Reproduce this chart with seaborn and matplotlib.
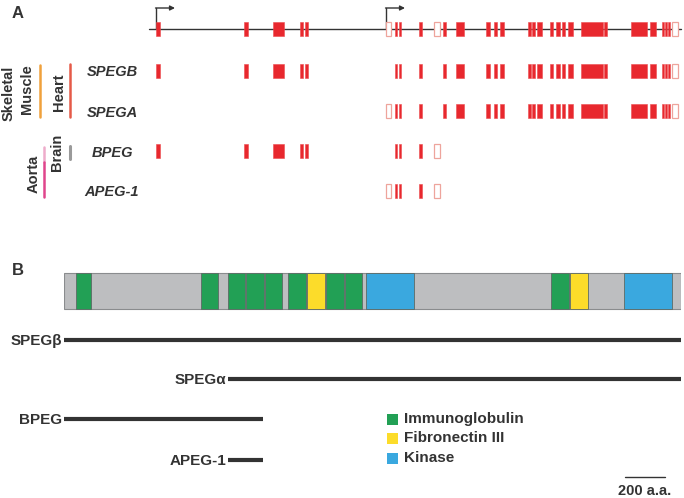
import matplotlib
matplotlib.use("Agg")
import matplotlib.pyplot as plt
import seaborn as sns
from matplotlib.patches import Rectangle

sns.set_theme(style="white")
plt.rcParams['font.family'] = ['Liberation Sans', 'DejaVu Sans']

# ---------------- Panel A data (gene coordinates, display units) ----------------
exon_start = [156, 244, 273, 300, 305, 386, 395, 398.7, 418.5, 434, 442.7, 456,
              485.7, 494, 500, 528.3, 532.3, 536.7, 550, 555.7, 562.3, 568.3,
              581, 604.3, 631, 650, 661.7, 665, 668.3, 671.7]
exon_end = [160, 248, 284, 302.5, 307.5, 390.5, 397.3, 401, 421.7, 439.5, 446, 464.3,
            490, 497, 504, 531, 535, 541.7, 552.5, 560, 565, 573.3,
            603.3, 607, 646.7, 656, 663.7, 667, 670.3, 678.3]
noncoding_exons = [5, 9, 29]
gene_span = [149, 681]
promoters = [156, 386]

transcripts = ["SPEGB", "SPEGA", "BPEG", "APEG-1"]
transcript_exons = [
    [0, 1, 2, 3, 4, 6, 7, 8] + list(range(10, 30)),
    [5, 6, 7, 8] + list(range(10, 30)),
    [0, 1, 2, 3, 4, 6, 7, 8, 9],
    [5, 6, 7, 8, 9],
]

tissues = ["Skeletal\nMuscle", "Heart", "Brain", "Aorta"]

# ---------------- Panel B data (amino acids) ----------------
protein_length = 3085
domain_names = ["Ig", "Ig", "Ig", "Ig", "Ig", "Ig", "FN3", "Ig", "Ig", "Kinase",
                "Ig", "FN3", "Kinase"]
domain_start = [58, 683, 821, 910, 1005, 1121, 1216, 1310, 1403, 1512, 2435, 2530, 2801]
domain_end = [135, 768, 905, 1000, 1088, 1208, 1305, 1398, 1488, 1751, 2525, 2618, 3038]
isoforms = ["SPEG\u03b2", "SPEG\u03b1", "BPEG", "APEG-1"]
isoform_start = [0, 820, 0, 820]
isoform_end = [3085, 3085, 995, 995]
legend_labels = ["Immunoglobulin", "Fibronectin III", "Kinase"]
scale_bar_aa = 200

domain_colors = {"Ig": "#22a055", "FN3": "#fcdc2a", "Kinase": "#3aa8df"}
txt = "#333333"
red = "#e8282e"

fig = plt.figure(figsize=(6.84, 4.98), dpi=100)
ax = fig.add_axes([0, 0, 1, 1])
ax.set_xlim(0, 684)
ax.set_ylim(498, 0)
ax.axis("off")

# ---- Panel A ----
ax.text(12, 13, "A", fontsize=12, fontweight="bold", color=txt, ha="left", va="center")
row_y = [29, 70.5, 111, 151, 190.5]
h = 14
# gene line
ax.plot(gene_span, [row_y[0], row_y[0]], color="#333333", lw=1.0, zorder=1)
for px in promoters:
    ax.plot([px, px], [row_y[0], 8], color="#333333", lw=1.0, zorder=1)
    ax.annotate("", xy=(px + 19, 8), xytext=(px - 0.5, 8),
                arrowprops=dict(arrowstyle="-|>", color="#333333", lw=1.0,
                                mutation_scale=7, shrinkA=0, shrinkB=0))

def draw_exon(i, y):
    s, e = exon_start[i], exon_end[i]
    if i in noncoding_exons:
        r = Rectangle((s, y - h / 2), e - s, h, facecolor="white",
                      edgecolor="#eea49c", lw=0.9, zorder=3)
    else:
        r = Rectangle((s, y - h / 2), e - s, h, facecolor=red,
                      edgecolor="#ec4a4e", lw=0.4, zorder=3)
    ax.add_patch(r)

for i in range(len(exon_start)):
    draw_exon(i, row_y[0])
for k, (name, ex) in enumerate(zip(transcripts, transcript_exons)):
    y = row_y[k + 1]
    for i in ex:
        draw_exon(i, y)
    ax.text(112, y + 1.5, name, fontsize=10.5, fontweight="bold", fontstyle="italic",
            color=txt, ha="center", va="center")

# tissue labels & bars
ax.text(9, 93, "Skeletal", rotation=90, fontsize=10.5, fontweight="bold", color=txt,
        ha="center", va="center")
ax.text(27.5, 89, "Muscle", rotation=90, fontsize=10.5, fontweight="bold", color=txt,
        ha="center", va="center")
ax.plot([39.5, 39.5], [65, 117], color="#f0a13c", lw=1.8)
ax.text(59, 92, "Heart", rotation=90, fontsize=10.5, fontweight="bold", color=txt,
        ha="center", va="center")
ax.plot([69.5, 69.5], [64, 117], color="#e55a48", lw=1.8)
ax.text(57.5, 152, "Brain", rotation=90, fontsize=10.5, fontweight="bold", color=txt,
        ha="center", va="center")
ax.plot([69.5, 69.5], [146, 159], color="#9a9a9a", lw=2.2)
ax.text(34, 174, "Aorta", rotation=90, fontsize=10.5, fontweight="bold", color=txt,
        ha="center", va="center")
ax.plot([43.5, 43.5], [147, 162], color="#eeaccb", lw=1.8)
ax.plot([43.5, 43.5], [162, 197], color="#e0458c", lw=1.8)

# ---- Panel B ----
ax.text(12, 270, "B", fontsize=12, fontweight="bold", color=txt, ha="left", va="center")
bx = fig.add_axes([64 / 684, 0, 617 / 684, 1])
bx.set_xlim(0, protein_length)
bx.set_ylim(498, 0)
bx.axis("off")
bx.patch.set_alpha(0)

bar_top, bar_h = 273, 36
bx.add_patch(Rectangle((0, bar_top), protein_length, bar_h, facecolor="#bdbec0",
                       edgecolor="#8a8c8e", lw=0.8, zorder=1))
for nm, s, e in zip(domain_names, domain_start, domain_end):
    bx.add_patch(Rectangle((s, bar_top), e - s, bar_h, facecolor=domain_colors[nm],
                           edgecolor="#5d6b66", lw=0.6, zorder=2))

iso_y = [340, 379, 419, 460]
for name, s, e, y in zip(isoforms, isoform_start, isoform_end, iso_y):
    bx.plot([s, e], [y, y], color="#333333", lw=3.0, solid_capstyle="butt", zorder=2)
    bx.text(s - 8, y + 0.5, name, fontsize=11, fontweight="bold", color=txt,
            ha="right", va="center", clip_on=False)

leg_y = [419, 438, 458]
for lab, key, y in zip(legend_labels, ["Ig", "FN3", "Kinase"], leg_y):
    bx.add_patch(Rectangle((1615, y - 5.5), 55, 11, facecolor=domain_colors[key],
                           edgecolor="none", zorder=2))
    bx.text(1700, y, lab, fontsize=11, fontweight="bold", color=txt,
            ha="left", va="center")

bx.plot([2805, 2805 + scale_bar_aa], [476.5, 476.5], color="#333333", lw=1.0)
bx.text(2905, 491, f"{scale_bar_aa} a.a.", fontsize=10.5, fontweight="bold", color=txt,
        ha="center", va="center")

fig.savefig("out.png", dpi=100)
